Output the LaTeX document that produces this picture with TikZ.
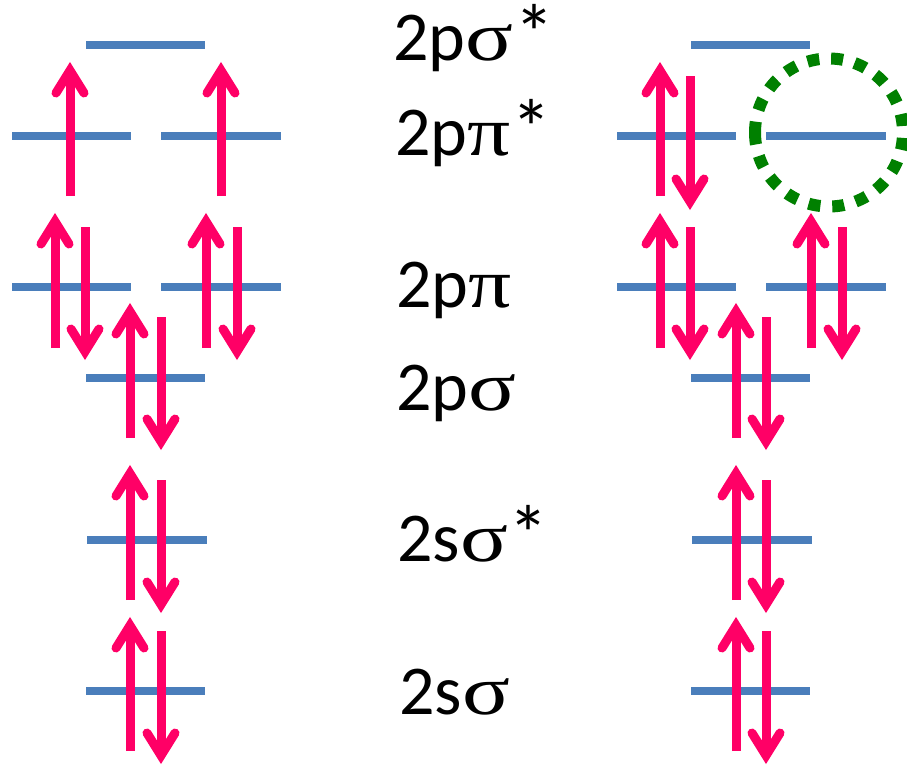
\documentclass[tikz,border=0pt]{standalone}
\usepackage{fontspec}
\usepackage{graphicx}
\setmainfont{Carlito}
\newfontfamily\greekf{Liberation Serif}
\definecolor{lvl}{HTML}{4A7EBB}
\definecolor{arr}{HTML}{FF0066}
\definecolor{grn}{HTML}{008000}
\newcommand{\sg}{\scalebox{1.27}[1]{\greekf σ}}
\newcommand{\pp}{\scalebox{1.22}[1]{\greekf π}}
\newcommand{\st}{\kern1pt\raisebox{-1pt}{\scalebox{1.15}{*}}}
\tikzset{
  x=1pt,y=-1pt,
  level/.style={draw=lvl,line width=8pt},
  elec/.style={draw=arr,line width=9pt},
  barb/.style={draw=arr,line width=9pt,line cap=round,line join=miter},
  lab/.style={anchor=base west,inner sep=0pt,font=\fontsize{70}{70}\selectfont,text=black},
}
% \lv{name}{x1}{x2}{y}
\newcommand{\lv}[4]{\coordinate (#1a) at (#2,#4);\coordinate (#1b) at (#3,#4);\draw[level] (#1a) -- (#1b);}
% \el{name}{x}{y tail}{y tip}{sign}: sign 1 points up, -1 points down
\newcommand{\el}[5]{\coordinate (#1t) at (#2,#3);\coordinate (#1h) at (#2,#4);
  \draw[elec] (#1t) -- ([yshift=-#5*10pt]#1h);
  \draw[barb,shift={(#1h)},yscale=#5] (-14,31) -- (0,8.5) -- (14,31);}
\begin{document}
\begin{tikzpicture}
\useasboundingbox (0,0) rectangle (907,766);
% levels, left
\lv{la}{86}{205}{45}
\lv{lb}{12}{131}{136}
\lv{lc}{161}{281}{136}
\lv{ld}{12}{131}{287}
\lv{le}{161}{281}{287}
\lv{lf}{86}{205}{378}
\lv{lg}{87}{207}{540}
\lv{lh}{86}{205}{691}
% levels, right
\lv{ra}{691}{810}{45}
\lv{rb}{617}{736}{136}
\lv{rc}{766}{886}{136}
\lv{rd}{617}{736}{287}
\lv{re}{766}{886}{287}
\lv{rf}{691}{810}{378}
\lv{rg}{692}{812}{540}
\lv{rh}{691}{810}{691}
% electrons, left
\el{a1}{70}{196}{62}{1}
\el{a2}{221}{196}{62}{1}
\el{a3}{55}{348}{213}{1}
\el{a4}{85}{227}{360}{-1}
\el{a5}{206}{348}{213}{1}
\el{a6}{237}{227}{360}{-1}
\el{a7}{130}{438}{303}{1}
\el{a8}{161}{317}{450}{-1}
\el{a9}{130}{600}{465}{1}
\el{a10}{161}{480}{613}{-1}
\el{a11}{130}{751}{617}{1}
\el{a12}{161}{631}{764}{-1}
% electrons, right
\el{b1}{660}{196}{62}{1}
\el{b2}{690}{76}{210}{-1}
\el{b3}{660}{348}{213}{1}
\el{b4}{690}{227}{360}{-1}
\el{b5}{811}{348}{213}{1}
\el{b6}{842}{227}{360}{-1}
\el{b7}{736}{438}{303}{1}
\el{b8}{766}{317}{450}{-1}
\el{b9}{736}{600}{465}{1}
\el{b10}{766}{480}{613}{-1}
\el{b11}{736}{751}{617}{1}
\el{b12}{766}{631}{764}{-1}
% hole marker
\draw[grn,line width=12pt,dash pattern=on 12pt off 11.9pt] (755,132.5) arc[start angle=180,end angle=-180,radius=74];
% labels
\node[lab] (t1) at (393,60) {2p\sg\st};
\node[lab] (t2) at (395,155) {2p\pp\st};
\node[lab] (t3) at (396,307) {2p\pp};
\node[lab] (t4) at (396,410) {2p\sg};
\node[lab] (t5) at (397,561) {2s\sg\st};
\node[lab] (t6) at (399,714) {2s\sg};
\end{tikzpicture}
\end{document}
